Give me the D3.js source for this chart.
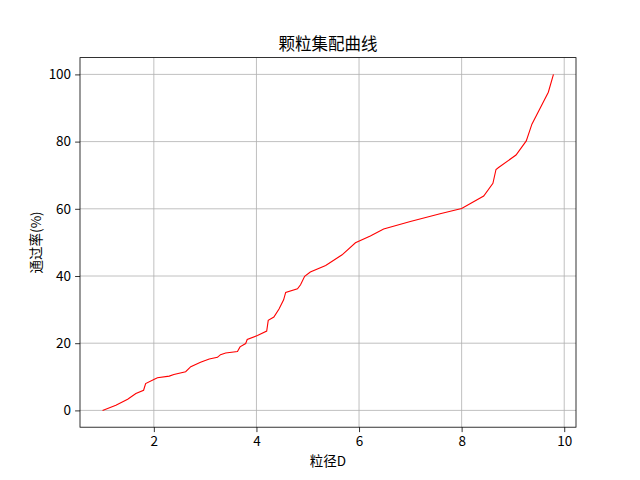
<!DOCTYPE html>
<html>
<head>
<meta charset="utf-8">
<script src="https://cdn.jsdelivr.net/npm/d3@7"></script>
<style>
  body { margin: 0; background: #fff; }
  text { font-family: "Noto Sans CJK SC", "DejaVu Sans", sans-serif; }
</style>
</head>
<body>
<svg id="chart" width="640" height="480"></svg>
<script>
// particle size D and passing rate (%)
var sizeD = [1.0, 1.26, 1.49, 1.65, 1.80, 1.84, 2.0, 2.07, 2.30, 2.39, 2.62, 2.72, 2.91, 3.08, 3.24, 3.30,
    3.40, 3.63, 3.68, 3.79, 3.82, 4.02, 4.20, 4.23, 4.34, 4.44, 4.53, 4.57, 4.80, 4.86, 4.94, 5.05,
    5.35, 5.67, 5.93, 6.22, 6.48, 7.0, 7.58, 8.0, 8.43, 8.61, 8.67, 8.72, 9.06, 9.26, 9.37, 9.69, 9.79];
var passRate = [0, 1.5, 3.3, 5.0, 6.0, 8.0, 9.2, 9.7, 10.2, 10.7, 11.5, 13.0, 14.3, 15.3, 15.8, 16.6,
    17.1, 17.5, 18.9, 19.9, 21.1, 22.3, 23.6, 26.8, 27.8, 30.2, 32.9, 35.1, 36.2, 37.4, 39.9, 41.2,
    43.1, 46.3, 49.9, 51.9, 54.0, 56.2, 58.5, 60.1, 63.8, 67.6, 71.7, 72.3, 76.0, 80.2, 85.2, 94.7, 100];
var xTicks = [2, 4, 6, 8, 10];
var yTicks = [0, 20, 40, 60, 80, 100];

var margin = {left: 80, right: 64, top: 57.6, bottom: 52.8},
    width = 640 - margin.left - margin.right,
    height = 480 - margin.top - margin.bottom;

var svg = d3.select("#chart");
var g = svg.append("g").attr("transform", "translate(" + margin.left + "," + margin.top + ")");

var xMin = d3.min(sizeD), xMax = d3.max(sizeD), xPad = (xMax - xMin) * 0.05;
var x = d3.scaleLinear().domain([xMin - xPad, xMax + xPad]).range([0, width]);
var y = d3.scaleLinear().domain([-5, 105]).range([height, 0]);

// grid
g.selectAll("line.gx").data(xTicks).enter().append("line")
    .attr("x1", function (d) { return x(d); })
    .attr("x2", function (d) { return x(d); })
    .attr("y1", 0).attr("y2", height)
    .attr("stroke", "#b0b0b0").attr("stroke-width", 0.8);
g.selectAll("line.gy").data(yTicks).enter().append("line")
    .attr("x1", 0).attr("x2", width)
    .attr("y1", function (d) { return y(d); })
    .attr("y2", function (d) { return y(d); })
    .attr("stroke", "#b0b0b0").attr("stroke-width", 0.8);

// curve
var pts = sizeD.map(function (d, i) { return [d, passRate[i]]; });
g.append("path")
    .datum(pts)
    .attr("fill", "none")
    .attr("stroke", "red")
    .attr("stroke-width", 1.1)
    .attr("d", d3.line().x(function (d) { return x(d[0]); }).y(function (d) { return y(d[1]); }));

// axes
var xAxis = g.append("g").attr("transform", "translate(0," + height + ")")
    .call(d3.axisBottom(x).tickValues(xTicks).tickFormat(d3.format("d")).tickSize(4.9).tickPadding(4));
var yAxis = g.append("g")
    .call(d3.axisLeft(y).tickValues(yTicks).tickFormat(d3.format("d")).tickSize(4.9).tickPadding(4));
[xAxis, yAxis].forEach(function (a) {
    a.select(".domain").remove();
    a.selectAll("text").attr("font-size", "13.5px").attr("fill", "#000")
        .style("font-family", '"Noto Sans CJK SC", sans-serif');
    a.selectAll("line").attr("stroke", "#000").attr("stroke-width", 0.8);
});

// frame
g.append("rect").attr("width", width).attr("height", height)
    .attr("fill", "none").attr("stroke", "#000").attr("stroke-width", 0.8);

// labels
svg.append("text").attr("x", margin.left + width / 2).attr("y", 49.5)
    .attr("text-anchor", "middle").attr("font-size", "16.5px").text("颗粒集配曲线");
svg.append("text").attr("x", margin.left + width / 2).attr("y", 466)
    .attr("text-anchor", "middle").attr("font-size", "13.5px").text("粒径D");
svg.append("text").attr("transform", "translate(41," + (margin.top + height / 2) + ") rotate(-90)")
    .attr("text-anchor", "middle").attr("font-size", "13.5px").text("通过率(%)");
</script>
</body>
</html>
